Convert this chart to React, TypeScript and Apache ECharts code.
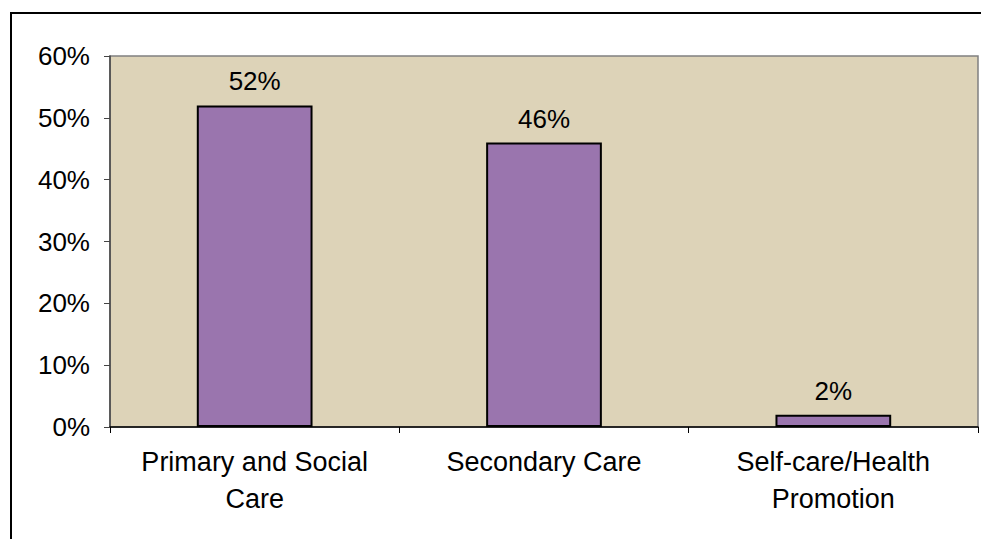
import React, { useEffect, useRef } from "react";
import * as echarts from "echarts";

const categories = ["Primary and Social\nCare", "Secondary Care", "Self-care/Health\nPromotion"];
const shares = [52, 46, 2];
const yTicks = [0, 10, 20, 30, 40, 50, 60];

const FONT = "Liberation Sans, Arial, sans-serif";

export default function App() {
  const ref = useRef<HTMLDivElement>(null);

  useEffect(() => {
    if (!ref.current) return;
    const chart = echarts.init(ref.current, undefined, { renderer: "svg" });
    chart.setOption({
      animation: false,
      backgroundColor: "#ffffff",
      graphic: [
        {
          type: "rect",
          shape: { x: 11, y: 13, width: 1000, height: 600 },
          style: { fill: "none", stroke: "#000000", lineWidth: 2 },
          silent: true,
        },
      ],
      grid: {
        left: 110,
        top: 56,
        right: 3,
        bottom: 112,
        show: true,
        backgroundColor: "#DDD3B8",
        borderColor: "#808080",
        borderWidth: 1.5,
      },
      xAxis: {
        type: "category",
        data: categories,
        boundaryGap: true,
        axisLine: { show: true, lineStyle: { color: "#000000", width: 1.5 } },
        axisTick: { show: true, length: 6, lineStyle: { color: "#000000" } },
        axisLabel: {
          color: "#000000",
          fontFamily: FONT,
          fontSize: 27,
          lineHeight: 37,
          margin: 16,
          interval: 0,
        },
      },
      yAxis: {
        type: "value",
        min: yTicks[0],
        max: yTicks[yTicks.length - 1],
        interval: 10,
        axisLine: { show: true, lineStyle: { color: "#444444", width: 1.5 } },
        axisTick: { show: true, length: 6, lineStyle: { color: "#444444" } },
        splitLine: { show: false },
        axisLabel: {
          color: "#000000",
          fontFamily: FONT,
          fontSize: 26,
          margin: 20,
          formatter: (v: number) => `${v}%`,
        },
      },
      series: [
        {
          type: "bar",
          data: shares,
          barWidth: "40%",
          itemStyle: { color: "#9A75AE", borderColor: "#000000", borderWidth: 2 },
          label: {
            show: true,
            position: "top",
            distance: 11,
            color: "#000000",
            fontFamily: FONT,
            fontSize: 26,
            formatter: (p: any) => `${p.value}%`,
          },
        },
      ],
    });
    return () => chart.dispose();
  }, []);

  return <div ref={ref} style={{ width: 981, height: 539, position: "absolute", left: 0, top: 0 }} />;
}
